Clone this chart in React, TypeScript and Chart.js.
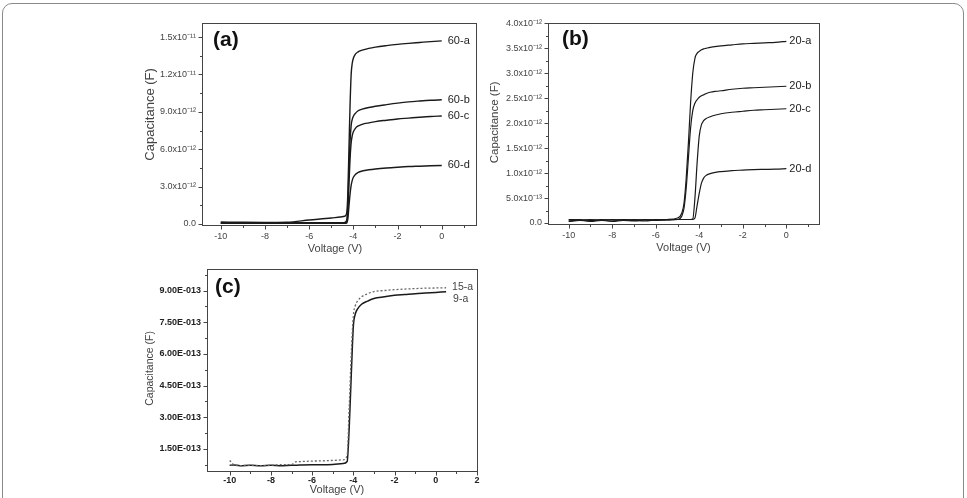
import { useEffect, useRef } from "react";
import { Chart, registerables } from "chart.js";

Chart.register(...registerables);

const FONT = "'Liberation Sans', Arial, Helvetica, sans-serif";

// ---------- Panel (a): capacitance in units of 1e-12 F ----------
const A_VOLTAGE = [-10, -9, -8, -7, -6, -5, -4.6, -4.4, -4.3, -4.25, -4.2, -4.15, -4.1, -4.05, -4.0, -3.9, -3.8, -3.6, -3.3, -3.0, -2.5, -2.0, -1.5, -1.0, -0.5, 0];
const A_60A = [0.16, 0.14, 0.13, 0.15, 0.32, 0.48, 0.56, 0.62, 0.9, 2.5, 6.0, 9.5, 12.0, 12.9, 13.3, 13.65, 13.8, 13.95, 14.1, 14.2, 14.32, 14.42, 14.5, 14.57, 14.64, 14.7];
const A_60B = [0.1, 0.1, 0.1, 0.1, 0.1, 0.1, 0.1, 0.12, 0.3, 1.5, 4.2, 6.6, 7.9, 8.4, 8.65, 8.9, 9.07, 9.22, 9.35, 9.45, 9.58, 9.7, 9.8, 9.87, 9.93, 9.97];
const A_60C = [0.06, 0.06, 0.06, 0.06, 0.06, 0.06, 0.06, 0.07, 0.2, 1.0, 3.2, 5.2, 6.5, 7.1, 7.4, 7.7, 7.85, 8.0, 8.12, 8.22, 8.33, 8.43, 8.5, 8.57, 8.63, 8.67];
const A_60D = [0.05, 0.05, 0.05, 0.05, 0.05, 0.05, 0.05, 0.06, 0.08, 0.4, 1.4, 2.4, 3.1, 3.5, 3.75, 4.0, 4.12, 4.25, 4.35, 4.42, 4.5, 4.56, 4.61, 4.64, 4.67, 4.7];
const A_X_TICKS = [-10, -8, -6, -4, -2, 0];
const A_X_LABELS = ["-10", "-8", "-6", "-4", "-2", "0"];
const A_X_MINOR = [-9, -7, -5, -3, -1, 1];
const A_Y_TICKS = [0, 3, 6, 9, 12, 15];
const A_Y_LABELS = ["0.0", "3.0x10⁻¹²", "6.0x10⁻¹²", "9.0x10⁻¹²", "1.2x10⁻¹¹", "1.5x10⁻¹¹"];
const A_Y_MINOR = [1.5, 4.5, 7.5, 10.5, 13.5];

// ---------- Panel (b): capacitance in units of 1e-12 F ----------
const B_VOLTAGE = [-10, -9.5, -9, -8.5, -8, -7.5, -7, -6.5, -6, -5.5, -5, -4.8, -4.7, -4.6, -4.5, -4.4, -4.3, -4.2, -4.1, -4.0, -3.9, -3.8, -3.7, -3.5, -3.2, -3.0, -2.5, -2.0, -1.5, -1.0, -0.5, 0];
const B_20A = [0.04, 0.06, 0.03, 0.05, 0.04, 0.06, 0.05, 0.04, 0.06, 0.07, 0.1, 0.2, 0.4, 0.9, 1.6, 2.4, 3.0, 3.3, 3.4, 3.44, 3.47, 3.49, 3.5, 3.52, 3.54, 3.55, 3.57, 3.59, 3.6, 3.61, 3.62, 3.64];
const B_20B = [0.03, 0.05, 0.04, 0.06, 0.03, 0.05, 0.04, 0.06, 0.05, 0.06, 0.07, 0.14, 0.3, 0.7, 1.3, 1.9, 2.25, 2.4, 2.47, 2.52, 2.55, 2.57, 2.59, 2.62, 2.64, 2.65, 2.68, 2.7, 2.71, 2.72, 2.73, 2.74];
const B_20C = [0.06, 0.07, 0.05, 0.07, 0.06, 0.07, 0.06, 0.07, 0.06, 0.07, 0.07, 0.07, 0.07, 0.07, 0.07, 0.07, 0.08, 0.5, 1.2, 1.75, 1.97, 2.05, 2.09, 2.13, 2.17, 2.19, 2.22, 2.24, 2.26, 2.27, 2.28, 2.29];
const B_20D = [0.07, 0.06, 0.07, 0.06, 0.07, 0.06, 0.07, 0.06, 0.07, 0.06, 0.07, 0.07, 0.07, 0.07, 0.07, 0.07, 0.07, 0.1, 0.35, 0.6, 0.8, 0.9, 0.95, 0.99, 1.02, 1.03, 1.05, 1.06, 1.07, 1.075, 1.08, 1.09];
const B_X_TICKS = [-10, -8, -6, -4, -2, 0];
const B_X_LABELS = ["-10", "-8", "-6", "-4", "-2", "0"];
const B_X_MINOR = [-9, -7, -5, -3, -1, 1];
const B_Y_TICKS = [0, 0.5, 1.0, 1.5, 2.0, 2.5, 3.0, 3.5, 4.0];
const B_Y_LABELS = ["0.0", "5.0x10⁻¹³", "1.0x10⁻¹²", "1.5x10⁻¹²", "2.0x10⁻¹²", "2.5x10⁻¹²", "3.0x10⁻¹²", "3.5x10⁻¹²", "4.0x10⁻¹²"];
const B_Y_MINOR = [0.25, 0.75, 1.25, 1.75, 2.25, 2.75, 3.25, 3.75];

// ---------- Panel (c): capacitance in units of 1e-13 F ----------
const C_VOLTAGE = [-10, -9.8, -9.5, -9, -8.5, -8, -7.5, -7, -6.8, -6.5, -6, -5.5, -5, -4.5, -4.3, -4.2, -4.1, -4.0, -3.9, -3.8, -3.6, -3.3, -3.0, -2.5, -2.0, -1.5, -1.0, -0.5, 0, 0.5];
const C_9A = [0.72, 0.74, 0.7, 0.72, 0.7, 0.72, 0.7, 0.72, 0.72, 0.74, 0.75, 0.75, 0.76, 0.8, 0.9, 2.5, 5.0, 7.3, 7.9, 8.12, 8.35, 8.5, 8.62, 8.7, 8.77, 8.81, 8.85, 8.88, 8.91, 8.94];
const C_15A = [0.95, 0.75, 0.7, 0.72, 0.7, 0.72, 0.75, 0.75, 0.88, 0.9, 0.92, 0.93, 0.95, 0.98, 1.2, 3.5, 6.0, 7.8, 8.3, 8.5, 8.7, 8.85, 8.95, 9.0, 9.04, 9.07, 9.09, 9.11, 9.12, 9.13];
const C_X_TICKS = [-10, -8, -6, -4, -2, 0, 2];
const C_X_LABELS = ["-10", "-8", "-6", "-4", "-2", "0", "2"];
const C_X_MINOR = [-9, -7, -5, -3, -1, 1];
const C_Y_TICKS = [1.5, 3.0, 4.5, 6.0, 7.5, 9.0];
const C_Y_LABELS = ["1.50E-013", "3.00E-013", "4.50E-013", "6.00E-013", "7.50E-013", "9.00E-013"];
const C_Y_MINOR = [0.75, 2.25, 3.75, 5.25, 6.75, 8.25, 9.75];

type Series = {
  label: string;
  x: number[];
  y: number[];
  color: string;
  width: number;
  dash?: number[];
  labelDx: number;
  labelDy: number;
  labelColor: string;
};

type PanelSpec = {
  left: number; top: number; width: number; height: number;
  yAxisW: number; xAxisH: number; padTop: number; padRight: number;
  xMin: number; xMax: number; yMin: number; yMax: number;
  xTicks: number[]; xLabels: string[]; xMinor: number[];
  yTicks: number[]; yLabels: string[]; yMinor: number[];
  tickSize: number; tickWeight: string; tickColor: string; xTickPad: number; yTickPad: number;
  tag: string; tagDx: number; tagDy: number; tagSize: number;
  yTitle: string; yTitleSize: number; yTitleDx: number; yTitleDy: number;
  xTitle: string; xTitleSize: number; xTitleDx: number; xTitleDy: number;
  seriesFontSize: number;
  series: Series[];
};

const AXIS_COLOR = "#444";

function decorPlugin(p: PanelSpec) {
  return {
    id: "decor",
    afterDatasetsDraw(chart: any) {
      const { ctx, chartArea: ca } = chart;
      const xs = chart.scales.x;
      const ys = chart.scales.y;
      ctx.save();
      ctx.strokeStyle = AXIS_COLOR;
      ctx.lineWidth = 1;
      const L = Math.round(ca.left) + 0.5;
      const R = Math.round(ca.right) + 0.5;
      const T = Math.round(ca.top) + 0.5;
      const B = Math.round(ca.bottom) + 0.5;
      ctx.strokeRect(L, T, R - L, B - T);
      ctx.beginPath();
      const xt = (v: number, len: number) => {
        const x = Math.round(xs.getPixelForValue(v)) + 0.5;
        ctx.moveTo(x, B);
        ctx.lineTo(x, B + len);
      };
      const yt = (v: number, len: number) => {
        const y = Math.round(ys.getPixelForValue(v)) + 0.5;
        ctx.moveTo(L, y);
        ctx.lineTo(L - len, y);
      };
      p.xTicks.forEach((v) => xt(v, 4));
      p.xMinor.forEach((v) => xt(v, 2.5));
      p.yTicks.forEach((v) => yt(v, 4));
      p.yMinor.forEach((v) => yt(v, 2.5));
      ctx.stroke();

      // panel tag
      ctx.fillStyle = "#111";
      ctx.font = `bold ${p.tagSize}px ${FONT}`;
      ctx.textAlign = "left";
      ctx.textBaseline = "middle";
      ctx.fillText(p.tag, ca.left + p.tagDx, ca.top + p.tagDy);

      // series end labels
      ctx.font = `${p.seriesFontSize}px ${FONT}`;
      p.series.forEach((s, i) => {
        const meta = chart.getDatasetMeta(i);
        const pt = meta.data[meta.data.length - 1];
        ctx.fillStyle = s.labelColor;
        ctx.fillText(s.label, pt.x + s.labelDx, pt.y + s.labelDy);
      });

      // axis titles
      ctx.fillStyle = "#444";
      ctx.textAlign = "center";
      ctx.font = `${p.xTitleSize}px ${FONT}`;
      ctx.fillText(p.xTitle, (ca.left + ca.right) / 2 + p.xTitleDx, ca.bottom + p.xTitleDy);
      ctx.save();
      ctx.translate(ca.left - p.yTitleDx, ca.top + p.yTitleDy);
      ctx.rotate(-Math.PI / 2);
      ctx.font = `${p.yTitleSize}px ${FONT}`;
      ctx.fillText(p.yTitle, 0, 0);
      ctx.restore();
      ctx.restore();
    },
  };
}

function Panel({ spec }: { spec: PanelSpec }) {
  const ref = useRef<HTMLCanvasElement | null>(null);
  useEffect(() => {
    if (!ref.current) return;
    const p = spec;
    const chart = new Chart(ref.current, {
      type: "line",
      data: {
        datasets: p.series.map((s) => ({
          label: s.label,
          data: s.x.map((x, i) => ({ x, y: s.y[i] })),
          borderColor: s.color,
          borderWidth: s.width,
          borderDash: s.dash || [],
          pointRadius: 0,
          fill: false,
          cubicInterpolationMode: "monotone" as const,
        })),
      },
      options: {
        responsive: false,
        maintainAspectRatio: false,
        animation: false,
        devicePixelRatio: 1,
        layout: { padding: { top: p.padTop, right: p.padRight, left: 0, bottom: 0 } },
        plugins: { legend: { display: false }, tooltip: { enabled: false } },
        scales: {
          x: {
            type: "linear",
            min: p.xMin,
            max: p.xMax,
            grid: { display: false, drawTicks: false },
            border: { display: false },
            afterBuildTicks: (scale: any) => {
              scale.ticks = p.xTicks.map((v) => ({ value: v }));
            },
            afterFit: (scale: any) => {
              scale.height = p.xAxisH;
            },
            ticks: {
              autoSkip: false,
              maxRotation: 0,
              padding: p.xTickPad,
              color: p.tickColor,
              font: { family: FONT, size: p.tickSize, weight: p.tickWeight as any },
              callback: (_v: any, i: number) => p.xLabels[i],
            },
          },
          y: {
            type: "linear",
            min: p.yMin,
            max: p.yMax,
            grid: { display: false, drawTicks: false },
            border: { display: false },
            afterBuildTicks: (scale: any) => {
              scale.ticks = p.yTicks.map((v) => ({ value: v }));
            },
            afterFit: (scale: any) => {
              scale.width = p.yAxisW;
            },
            ticks: {
              autoSkip: false,
              padding: p.yTickPad,
              color: p.tickColor,
              font: { family: FONT, size: p.tickSize, weight: p.tickWeight as any },
              callback: (_v: any, i: number) => p.yLabels[i],
            },
          },
        },
      },
      plugins: [decorPlugin(p)],
    } as any);
    return () => chart.destroy();
  }, [spec]);
  return (
    <canvas
      ref={ref}
      width={spec.width}
      height={spec.height}
      style={{ position: "absolute", left: spec.left, top: spec.top, width: spec.width, height: spec.height }}
    />
  );
}

const LINE = "#1a1a1a";

const PANEL_A: PanelSpec = {
  left: 125, top: 12, width: 360, height: 248,
  yAxisW: 77, xAxisH: 35, padTop: 10, padRight: 9,
  xMin: -10.85, xMax: 1.55, yMin: -0.08, yMax: 16.1,
  xTicks: A_X_TICKS, xLabels: A_X_LABELS, xMinor: A_X_MINOR,
  yTicks: A_Y_TICKS, yLabels: A_Y_LABELS, yMinor: A_Y_MINOR,
  tickSize: 9, tickWeight: "normal", tickColor: "#444", xTickPad: 6, yTickPad: 6,
  tag: "(a)", tagDx: 11, tagDy: 17, tagSize: 21,
  yTitle: "Capacitance (F)", yTitleSize: 13, yTitleDx: 52, yTitleDy: 91,
  xTitle: "Voltage (V)", xTitleSize: 11, xTitleDx: -4, xTitleDy: 24,
  seriesFontSize: 11,
  series: [
    { label: "60-a", x: A_VOLTAGE, y: A_60A, color: LINE, width: 1.4, labelDx: 6, labelDy: 0, labelColor: "#222" },
    { label: "60-b", x: A_VOLTAGE, y: A_60B, color: LINE, width: 1.4, labelDx: 6, labelDy: 0, labelColor: "#222" },
    { label: "60-c", x: A_VOLTAGE, y: A_60C, color: LINE, width: 1.4, labelDx: 6, labelDy: 0, labelColor: "#222" },
    { label: "60-d", x: A_VOLTAGE, y: A_60D, color: LINE, width: 1.4, labelDx: 6, labelDy: 0, labelColor: "#222" },
  ],
};

const PANEL_B: PanelSpec = {
  left: 470, top: 12, width: 360, height: 248,
  yAxisW: 78, xAxisH: 36, padTop: 11, padRight: 11,
  xMin: -10.95, xMax: 1.5, yMin: -0.02, yMax: 4.0,
  xTicks: B_X_TICKS, xLabels: B_X_LABELS, xMinor: B_X_MINOR,
  yTicks: B_Y_TICKS, yLabels: B_Y_LABELS, yMinor: B_Y_MINOR,
  tickSize: 9, tickWeight: "normal", tickColor: "#444", xTickPad: 6, yTickPad: 6,
  tag: "(b)", tagDx: 14, tagDy: 16, tagSize: 21,
  yTitle: "Capacitance (F)", yTitleSize: 11.5, yTitleDx: 53, yTitleDy: 99,
  xTitle: "Voltage (V)", xTitleSize: 11, xTitleDx: 0, xTitleDy: 24,
  seriesFontSize: 11,
  series: [
    { label: "20-a", x: B_VOLTAGE, y: B_20A, color: LINE, width: 1.2, labelDx: 3, labelDy: 0, labelColor: "#222" },
    { label: "20-b", x: B_VOLTAGE, y: B_20B, color: LINE, width: 1.2, labelDx: 3, labelDy: 0, labelColor: "#222" },
    { label: "20-c", x: B_VOLTAGE, y: B_20C, color: LINE, width: 1.2, labelDx: 3, labelDy: 0, labelColor: "#222" },
    { label: "20-d", x: B_VOLTAGE, y: B_20D, color: LINE, width: 1.2, labelDx: 3, labelDy: 0, labelColor: "#222" },
  ],
};

const PANEL_C: PanelSpec = {
  left: 125, top: 258, width: 365, height: 240,
  yAxisW: 82, xAxisH: 27, padTop: 11, padRight: 13,
  xMin: -11.1, xMax: 2.0, yMin: 0.45, yMax: 10.0,
  xTicks: C_X_TICKS, xLabels: C_X_LABELS, xMinor: C_X_MINOR,
  yTicks: C_Y_TICKS, yLabels: C_Y_LABELS, yMinor: C_Y_MINOR,
  tickSize: 9, tickWeight: "bold", tickColor: "#222", xTickPad: 4, yTickPad: 6,
  tag: "(c)", tagDx: 8, tagDy: 18, tagSize: 21,
  yTitle: "Capacitance (F)", yTitleSize: 10.5, yTitleDx: 57, yTitleDy: 99,
  xTitle: "Voltage (V)", xTitleSize: 11, xTitleDx: -5, xTitleDy: 19,
  seriesFontSize: 10.5,
  series: [
    { label: "15-a", x: C_VOLTAGE, y: C_15A, color: "#666", width: 1.3, dash: [2, 2], labelDx: 6, labelDy: -1, labelColor: "#444" },
    { label: "9-a", x: C_VOLTAGE, y: C_9A, color: LINE, width: 1.5, labelDx: 7, labelDy: 7, labelColor: "#444" },
  ],
};

export default function App() {
  return (
    <div
      style={{
        position: "fixed",
        left: 0,
        top: 0,
        width: 967,
        height: 498,
        background: "#fff",
        overflow: "hidden",
      }}
    >
      <div
        style={{
          position: "absolute",
          left: 2,
          top: 3,
          width: 962,
          height: 530,
          border: "1px solid #8a8a8a",
          borderRadius: 10,
          boxSizing: "border-box",
        }}
      />
      <Panel spec={PANEL_A} />
      <Panel spec={PANEL_B} />
      <Panel spec={PANEL_C} />
    </div>
  );
}
